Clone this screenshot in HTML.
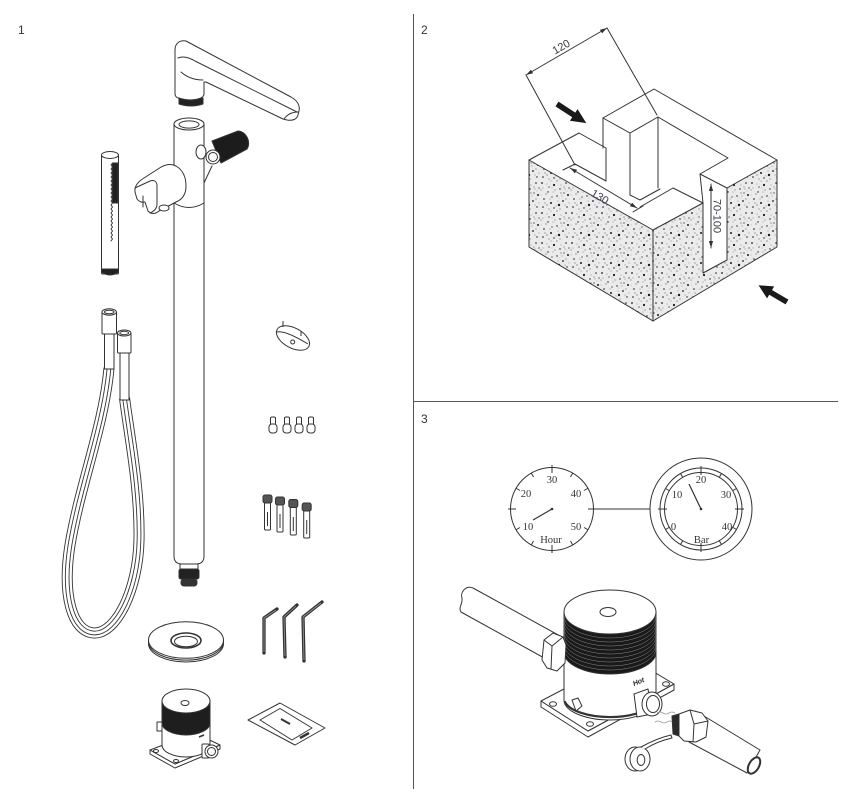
<!DOCTYPE html>
<html><head><meta charset="utf-8"><style>
html,body{margin:0;padding:0;background:#fff}
svg{display:block}
</style></head><body>
<svg width="842" height="802" viewBox="0 0 842 802" xmlns="http://www.w3.org/2000/svg">
<defs>
<pattern id="spk" width="30" height="30" patternUnits="userSpaceOnUse">
<rect width="30" height="30" fill="#ebebeb"/>
<g fill="#1a1a1a">
<circle cx="2" cy="3" r=".9"/><circle cx="8" cy="12" r=".7"/><circle cx="14" cy="5" r="1.1"/><circle cx="20" cy="9" r=".7"/><circle cx="26" cy="3" r=".8"/><circle cx="28" cy="15" r="1"/><circle cx="4" cy="19" r=".8"/><circle cx="11" cy="23" r="1"/><circle cx="17" cy="16" r=".7"/><circle cx="23" cy="21" r=".9"/><circle cx="27" cy="27" r=".7"/><circle cx="3" cy="27" r=".8"/><circle cx="14" cy="28" r=".7"/><circle cx="19" cy="25" r="1.2"/><circle cx="9" cy="7" r=".6"/><circle cx="24" cy="13" r=".6"/><circle cx="12" cy="17" r=".6"/><circle cx="6" cy="14" r=".5"/><circle cx="17" cy="1" r=".5"/><circle cx="29" cy="8" r=".6"/><circle cx="21" cy="13" r=".5"/><circle cx="7" cy="25" r=".5"/><circle cx="25" cy="9" r=".4"/>
</g>
<g fill="#777">
<circle cx="1" cy="10" r=".6"/><circle cx="9" cy="29" r=".6"/><circle cx="24" cy="7" r=".6"/><circle cx="20" cy="29" r=".6"/><circle cx="15" cy="10" r=".6"/><circle cx="26" cy="19" r=".6"/><circle cx="5" cy="23" r=".6"/><circle cx="11" cy="1" r=".5"/><circle cx="7" cy="4" r=".5"/><circle cx="22" cy="16" r=".5"/><circle cx="13" cy="12" r=".5"/><circle cx="18" cy="21" r=".5"/><circle cx="29" cy="23" r=".5"/><circle cx="3" cy="8" r=".5"/><circle cx="16" cy="26" r=".5"/><circle cx="25" cy="25" r=".5"/><circle cx="10" cy="19" r=".5"/><circle cx="21" cy="5" r=".5"/><circle cx="1" cy="15" r=".4"/><circle cx="19" cy="18" r=".4"/><circle cx="27" cy="11" r=".4"/><circle cx="12" cy="8" r=".4"/>
</g>
</pattern>
<marker id="ah" viewBox="0 0 10 10" refX="10" refY="5" markerWidth="7" markerHeight="7" orient="auto-start-reverse" markerUnits="userSpaceOnUse"><path d="M0,2 L10,5 L0,8 Z" fill="#333"/></marker>
</defs>
<rect width="842" height="802" fill="#fff"/>

<!-- dividers -->
<g stroke="#555" stroke-width="1">
<line x1="413.5" y1="14" x2="413.5" y2="789"/>
<line x1="413" y1="401.5" x2="838" y2="401.5"/>
</g>

<g font-family="Liberation Sans, sans-serif" font-size="12" fill="#333">
<text x="18" y="34">1</text>
<text x="421" y="34">2</text>
<text x="421" y="423">3</text>
</g>

<!-- ============ SECTION 1 ============ -->
<g stroke="#333" stroke-width="1" fill="#fff" stroke-linejoin="round" stroke-linecap="round">
<!-- spout -->
<path d="M175,50 C175,43 180,40 186,41 L291,97 C298,101 300,106 299,111 L298,115 C297,119 293,121 287,120 L283,119 L206,82 L204,82 L204,94 C204,98 197,100 189,100 C181,100 175,98 175,94 Z"/>
<path d="M178,58 Q185,55 195,61 L297,112" fill="none"/>
<path d="M181,72 Q190,80 203,80" fill="none"/>
<path d="M284,119 Q289,112 298,112" fill="none"/>
<path d="M179,98 L179,104 Q191,108 203,104 L203,98 Q191,102 179,98 Z" fill="#222"/>

<!-- main column -->
<path d="M174,124 L174,556 Q174,564 182,564 L196,564 Q204,564 204,556 L204,124"/>
<ellipse cx="189" cy="124" rx="15" ry="6"/>
<ellipse cx="189" cy="124.5" rx="10" ry="3.6"/>
<path d="M174,203 Q189,212 204,203" fill="none"/>
<rect x="180" y="564" width="18" height="5" rx="1"/>
<rect x="179" y="569" width="20" height="10" rx="2" fill="#222"/>
<rect x="181" y="579" width="16" height="7" rx="3" fill="#333"/>

<!-- handle -->
<path d="M204,183 L212,166" fill="none"/>
<ellipse cx="201" cy="152" rx="5" ry="7"/>
<path d="M212,141 L238,131 A9,11 -25 0,1 247,149 L221,163 Z" fill="#1c1c1c"/>
<circle cx="213" cy="157" r="7"/>
<circle cx="213" cy="157" r="4.5"/>

<!-- holder -->
<path d="M176,166 Q168,162 158,169 L144,178 Q134,184 135,192 L137,199 Q140,203 145,202 L148,211 Q153,216 159,211 L176,202"/>
<path d="M135,188 L150,181 Q156,179 157,185 L157,204 Q157,210 150,213" fill="none"/>
<path d="M143,196 L143,207" fill="none"/>
<ellipse cx="164" cy="208" rx="5" ry="3"/>
<path d="M176,166 Q186,172 186,186 Q186,198 176,202" fill="none"/>

<!-- hand shower -->
<rect x="101.5" y="155" width="17" height="119" rx="1"/>
<ellipse cx="110" cy="155" rx="8.5" ry="3.5"/>
<rect x="112.5" y="163" width="5.5" height="40" fill="#222"/>
<path d="M112.5,163 l-1.5,2 l1.5,2 l-1.5,2 l1.5,2 l-1.5,2 l1.5,2 l-1.5,2 l1.5,2 l-1.5,2 l1.5,2 l-1.5,2 l1.5,2 l-1.5,2 l1.5,2 l-1.5,2 l1.5,2 l-1.5,2 l1.5,2 l-1.5,2 l1.5,2 l-1.5,2 l1.5,2 l-1.5,2 l1.5,2 l-1.5,2 l1.5,2 l-1.5,2 l1.5,2 l-1.5,2 l1.5,2 l-1.5,2 l1.5,2 l-1.5,2 l1.5,2 l-1.5,2 l1.5,2 l-1.5,2 l1.5,2 l-1.5,2 " fill="none"/>
<path d="M101.5,269 L118.5,269 L118.5,272 Q110,278 101.5,272 Z" fill="#222"/>
</g>

<!-- hose -->
<g fill="none" stroke-linecap="butt">
<path d="M109,368 C104,425 80,485 70,545 C62,595 72,632 94,633 C116,634 138,590 139,540 C140,490 130,440 124.5,398" stroke="#333" stroke-width="11"/>
<path d="M109,368 C104,425 80,485 70,545 C62,595 72,632 94,633 C116,634 138,590 139,540 C140,490 130,440 124.5,398" stroke="#fff" stroke-width="9.2"/>
<path d="M109,368 C104,425 80,485 70,545 C62,595 72,632 94,633 C116,634 138,590 139,540 C140,490 130,440 124.5,398" stroke="#333" stroke-width="4.6"/>
<path d="M109,368 C104,425 80,485 70,545 C62,595 72,632 94,633 C116,634 138,590 139,540 C140,490 130,440 124.5,398" stroke="#fff" stroke-width="2.8"/>
</g>
<g stroke="#333" stroke-width="1" fill="#fff" stroke-linejoin="round">
<rect x="104.5" y="333" width="9.5" height="36"/>
<rect x="102" y="312" width="14.5" height="22" rx="1"/>
<ellipse cx="109.2" cy="312" rx="7.2" ry="3.2"/>
<ellipse cx="109.2" cy="312" rx="4.8" ry="1.8"/>
<rect x="120" y="352" width="9" height="48"/>
<rect x="117.5" y="333" width="13.5" height="20" rx="1"/>
<ellipse cx="124.2" cy="333" rx="6.7" ry="3"/>
<ellipse cx="124.2" cy="333" rx="4.4" ry="1.7"/>

<!-- escutcheon -->
<ellipse cx="293" cy="338" rx="18" ry="10" transform="rotate(28 293 338)"/>
<path d="M277,332 Q285,330 308,344" fill="none"/>
<circle cx="292.7" cy="342" r="2"/>
<line x1="283" y1="321" x2="283" y2="327"/>
<line x1="301" y1="331" x2="301" y2="336"/>

<!-- screws -->
<g>
<rect x="270.5" y="417" width="5" height="8" rx="1.5"/><rect x="269" y="424" width="8" height="9" rx="3"/>
<rect x="284.5" y="417" width="5" height="8" rx="1.5"/><rect x="283" y="424" width="8" height="9" rx="3"/>
<rect x="296.5" y="417" width="5" height="8" rx="1.5"/><rect x="295" y="424" width="8" height="9" rx="3"/>
<rect x="308.5" y="417" width="5" height="8" rx="1.5"/><rect x="307" y="424" width="8" height="9" rx="3"/>
</g>

<!-- anchors -->
<g>
<rect x="264.5" y="502" width="6" height="28" rx="1"/><line x1="267.5" y1="512" x2="267.5" y2="526"/><rect x="263" y="495" width="9" height="8" rx="2" fill="#555"/>
<rect x="277" y="504" width="6" height="28" rx="1"/><line x1="280" y1="514" x2="280" y2="528"/><rect x="275.5" y="497" width="9" height="8" rx="2" fill="#555"/>
<rect x="290.3" y="507" width="6" height="28" rx="1"/><line x1="293.3" y1="517" x2="293.3" y2="531"/><rect x="288.8" y="499.5" width="9" height="8" rx="2" fill="#555"/>
<rect x="303.7" y="510" width="6" height="28" rx="1"/><line x1="306.7" y1="520" x2="306.7" y2="534"/><rect x="302.2" y="503" width="9" height="8" rx="2" fill="#555"/>
</g>
</g>

<!-- allen keys -->
<g fill="none" stroke="#333" stroke-width="3.3" stroke-linecap="round" stroke-linejoin="round">
<polyline points="264,653 264,618 277,609"/>
<polyline points="285,657 284,617 297,605"/>
<polyline points="304,661 303,617 322,602"/>
</g>
<g fill="none" stroke="#999" stroke-width="0.8">
<polyline points="264,652 264,618 276,610"/>
<polyline points="285,656 284,617 296,606"/>
<polyline points="304,660 303,617 321,603"/>
</g>

<g stroke="#333" stroke-width="1" fill="#fff" stroke-linejoin="round">
<!-- flange -->
<ellipse cx="186" cy="643.5" rx="37.5" ry="18.5"/>
<ellipse cx="186" cy="641.8" rx="37.5" ry="18.3"/>
<ellipse cx="186" cy="640" rx="37.5" ry="18.3"/>
<ellipse cx="186" cy="640.5" rx="15" ry="7.5" stroke-width="1.6"/>
<ellipse cx="186" cy="641.5" rx="11.5" ry="5.3"/>

<!-- small box mixer -->
<path d="M150,750 L150,754 L175,768 L220,749 L220,745 L175,764 Z"/>
<path d="M150,750 L175,764 L220,745 L195,733 Z"/>
<ellipse cx="156" cy="751" rx="2.5" ry="1.5"/>
<ellipse cx="176" cy="761" rx="2.5" ry="1.5"/>
<path d="M162,701 L162,745 A24,12 0 0,0 210,745 L210,701 Z"/>
<path d="M162,701 A24,12 0 0,0 210,701 L210,723 A24,12 0 0,1 162,723 Z" fill="#1e1e1e"/>
<ellipse cx="186" cy="701" rx="24" ry="12"/>
<ellipse cx="185" cy="703" rx="4" ry="2.5"/>
<rect x="157" y="722" width="5" height="9"/>
<rect x="202" y="744" width="7" height="14" rx="1"/>
<circle cx="211.5" cy="751.5" r="6.5"/>
<circle cx="211.5" cy="751.5" r="4"/>
<line x1="199" y1="737" x2="204" y2="735" stroke-width="1.6"/>

<!-- sachet -->
<path d="M248,720 L280,703 L325,728 L295,745 Z"/>
<path d="M260,720 L280,708.5 L312,728 L292,740 Z"/>
<line x1="281" y1="719" x2="290" y2="724" stroke-width="2"/>
<line x1="300" y1="738" x2="309" y2="733" stroke-width="2.5"/>
</g>

<!-- ============ SECTION 2 ============ -->
<g stroke="#333" stroke-width="1" fill="none" stroke-linejoin="round" stroke-linecap="round">
<path d="M529,160 L579,133 L603,146 L603,118 L654,89 L777,160 L653,230 Z" fill="#fff" stroke="none"/>
<polygon points="529,160 653,230 653,321 529,247" fill="url(#spk)"/>
<polygon points="653,230 703,203 703,273 727,260 727,188 777,160 777,247 653,321" fill="url(#spk)"/>
<polyline points="529,160 579,133 606,148"/>
<line x1="603" y1="118" x2="603" y2="148"/>
<line x1="606" y1="148" x2="606" y2="181"/>
<polyline points="603,118 630,133 658,117"/>
<polyline points="603,118 654,89 777,160"/>
<line x1="630" y1="133" x2="630" y2="195"/>
<line x1="658" y1="117" x2="658" y2="188"/>
<polyline points="658,117 728,158 700,174 727,188"/>
<line x1="700" y1="174" x2="703" y2="203"/>
<polyline points="703,203 673,188 640,207"/>
<polyline points="630,195 640,200 660,189"/>
<polyline points="606,181 575,164 563,170"/>
<line x1="633" y1="212" x2="643" y2="206"/>

<line x1="526" y1="75" x2="575" y2="165"/>
<line x1="607" y1="28" x2="657" y2="115"/>
<line x1="526" y1="75" x2="607" y2="28" marker-start="url(#ah)" marker-end="url(#ah)"/>
<line x1="570" y1="168" x2="637" y2="208" marker-start="url(#ah)" marker-end="url(#ah)"/>
<line x1="711" y1="184" x2="711" y2="248" marker-start="url(#ah)" marker-end="url(#ah)"/>
</g>
<g font-family="Liberation Sans, sans-serif" font-size="11" fill="#3a3a4a" text-anchor="middle">
<text transform="translate(563,50) rotate(-30)">120</text>
<text transform="translate(598,200) rotate(31)">130</text>
<text transform="translate(713.5,216) rotate(90)">70-100</text>
</g>
<g fill="#1a1a1a">
<polygon transform="translate(557,104) rotate(33.2)" points="0,-2.8 20,-2.8 20,-7 35,0 20,7 20,2.8 0,2.8"/>
<polygon transform="translate(787,302) rotate(210.4)" points="0,-2.8 19,-2.8 19,-7 33,0 19,7 19,2.8 0,2.8"/>
</g>

<!-- ============ SECTION 3 ============ -->
<g stroke="#333" stroke-width="1" fill="none">
<circle cx="552" cy="509" r="41.5"/>
<g transform="translate(552,509)">
<line x1="0" y1="-44" x2="0" y2="-36" transform="rotate(0)"/>
<line x1="0" y1="-41.5" x2="0" y2="-37" transform="rotate(30)"/>
<line x1="0" y1="-41.5" x2="0" y2="-37" transform="rotate(60)"/>
<line x1="0" y1="-44" x2="0" y2="-36" transform="rotate(90)"/>
<line x1="0" y1="-41.5" x2="0" y2="-37" transform="rotate(120)"/>
<line x1="0" y1="-41.5" x2="0" y2="-37" transform="rotate(150)"/>
<line x1="0" y1="-44" x2="0" y2="-36" transform="rotate(180)"/>
<line x1="0" y1="-41.5" x2="0" y2="-37" transform="rotate(210)"/>
<line x1="0" y1="-41.5" x2="0" y2="-37" transform="rotate(240)"/>
<line x1="0" y1="-44" x2="0" y2="-36" transform="rotate(270)"/>
<line x1="0" y1="-41.5" x2="0" y2="-37" transform="rotate(300)"/>
<line x1="0" y1="-41.5" x2="0" y2="-37" transform="rotate(330)"/>
</g>
<line x1="552" y1="509" x2="533" y2="520" stroke-width="1.2"/>
<line x1="593.5" y1="509" x2="650" y2="509"/>
<circle cx="701" cy="509" r="51"/>
<circle cx="701" cy="509" r="41"/>
<circle cx="701" cy="509" r="36.5"/>
<g transform="translate(701,509)">
<line x1="0" y1="-43" x2="0" y2="-34" transform="rotate(0)"/>
<line x1="0" y1="-41" x2="0" y2="-36.5" transform="rotate(30)"/>
<line x1="0" y1="-41" x2="0" y2="-36.5" transform="rotate(60)"/>
<line x1="0" y1="-43" x2="0" y2="-34" transform="rotate(90)"/>
<line x1="0" y1="-41" x2="0" y2="-36.5" transform="rotate(120)"/>
<line x1="0" y1="-41" x2="0" y2="-36.5" transform="rotate(150)"/>
<line x1="0" y1="-43" x2="0" y2="-34" transform="rotate(180)"/>
<line x1="0" y1="-41" x2="0" y2="-36.5" transform="rotate(210)"/>
<line x1="0" y1="-41" x2="0" y2="-36.5" transform="rotate(240)"/>
<line x1="0" y1="-43" x2="0" y2="-34" transform="rotate(270)"/>
<line x1="0" y1="-41" x2="0" y2="-36.5" transform="rotate(300)"/>
<line x1="0" y1="-41" x2="0" y2="-36.5" transform="rotate(330)"/>
</g>
<line x1="701" y1="509" x2="689" y2="484" stroke-width="1.2"/>
</g>
<circle cx="552" cy="509" r="1.3" fill="#333"/>
<circle cx="701" cy="509" r="1.3" fill="#333"/>
<g font-family="Liberation Serif, serif" font-size="10.5" fill="#333" text-anchor="middle">
<text x="552" y="483">30</text>
<text x="526" y="497">20</text>
<text x="576" y="497">40</text>
<text x="528" y="530">10</text>
<text x="576" y="530">50</text>
<text x="551" y="543">Hour</text>
<text x="701" y="483">20</text>
<text x="677" y="498">10</text>
<text x="726" y="498">30</text>
<text x="673.5" y="530">0</text>
<text x="727" y="530">40</text>
<text x="701.5" y="543">Bar</text>
</g>

<!-- mixer section 3 -->
<g stroke="#333" stroke-width="1" fill="#fff" stroke-linejoin="round" stroke-linecap="round">
<path d="M473,588 L560,636 L546,659 L461,612 C458,607 463,604 462,598 C460,592 466,585 473,588 Z"/>
<path d="M541,701 L541,707 L588,737 L674,690 L674,684 L588,731 Z"/>
<path d="M541,701 L588,731 L674,684 L627,656 Z"/>
<ellipse cx="553" cy="704" rx="3.5" ry="2.3"/>
<ellipse cx="590" cy="724" rx="3.5" ry="2.3"/>
<ellipse cx="666" cy="684" rx="3.5" ry="2.3"/>
<path d="M564,612 L564,700 A46,20 0 0,0 656,700 L656,612 Z"/>
<path d="M565,702 A46,19 0 0,0 655,702" fill="none" stroke-width="2.2"/>
<path d="M564,612 A46,22 0 0,0 656,612 L656,652 A46,22 0 0,1 564,652 Z" fill="#1a1a1a"/>
<g fill="none" stroke="#888" stroke-width="0.5">
<path d="M564,616 A46,22 0 0,0 656,616"/>
<path d="M564,620 A46,22 0 0,0 656,620"/>
<path d="M564,624 A46,22 0 0,0 656,624"/>
<path d="M564,628 A46,22 0 0,0 656,628"/>
<path d="M564,632 A46,22 0 0,0 656,632"/>
<path d="M564,636 A46,22 0 0,0 656,636"/>
<path d="M564,640 A46,22 0 0,0 656,640"/>
<path d="M564,644 A46,22 0 0,0 656,644"/>
<path d="M564,648 A46,22 0 0,0 656,648"/>
</g>
<ellipse cx="610" cy="612" rx="46" ry="22"/>
<ellipse cx="608" cy="612" rx="8" ry="4.5"/>
<path d="M572,700 L578,698 L582,706 L576,711 Z"/>
<path d="M544,640 L553,633 L563,637 L566,645 L565,663 L557,671 L547,668 L542,660 Z"/>
<path d="M544,640 L552,646 L563,637 M552,646 L551,669" fill="none"/>
<!-- outlet -->
<path d="M634,694 L648,689 L652,714 L637,717 Z"/>
<ellipse cx="652" cy="704" rx="10" ry="12"/>
<ellipse cx="653" cy="704" rx="6.5" ry="8.5"/>
<!-- right pipe -->
<path d="M699,713 L760,750 L747,773 L689,742 Z"/>
<ellipse cx="754" cy="765.5" rx="5" ry="9" transform="rotate(30 754 765.5)" stroke-width="2"/>
<path d="M679,714 L690,710 L702,713 L708,721 L706,737 L696,742 L684,741 L679,736 Z"/>
<path d="M690,710 L694,724 L708,721 M694,724 L693,742" fill="none"/>
<path d="M679,714 L679,736 L673,734 L672,716 Z" fill="#2a2a2a"/>
<!-- tape roll -->
<ellipse cx="635" cy="759" rx="10" ry="12"/>
<ellipse cx="640" cy="759" rx="10" ry="12"/>
<ellipse cx="641" cy="760" rx="3.8" ry="5.5"/>
<path d="M641,747 C652,741 662,737 671,735 L672,738 C663,740 653,744 645,749"/>
</g>
<g fill="none" stroke="#999" stroke-width="0.8">
<path d="M657,713 q3,-2 6,0 t6,0 t6,0"/>
<path d="M655,722 q3,-2 6,0 t6,0 t5,0"/>
</g>
<text transform="translate(634,686) rotate(-22)" font-family="Liberation Sans, sans-serif" font-size="7" font-weight="bold" font-style="italic" fill="#222">Hot</text>
</svg>
</body></html>
